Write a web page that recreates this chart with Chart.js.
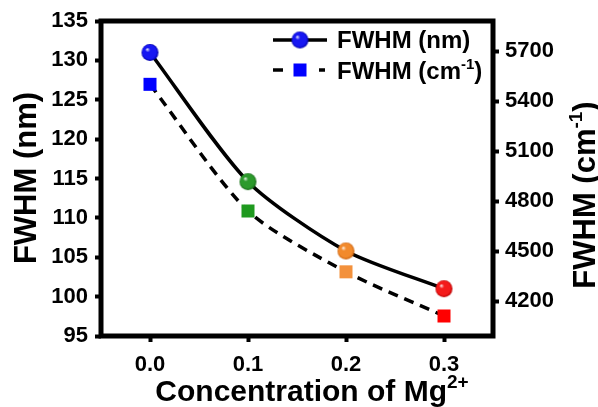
<!DOCTYPE html>
<html>
<head>
<meta charset="utf-8">
<script src="https://cdn.jsdelivr.net/npm/chart.js@4.4.1/dist/chart.umd.min.js"></script>
<style>
  html, body { margin: 0; padding: 0; background: #fff; }
  #chart { display: block; }
</style>
</head>
<body>
<canvas id="chart" width="598" height="407"></canvas>
<script>
// values
const concentrations = [0.0, 0.1, 0.2, 0.3];
const fwhmNm = [131.0, 114.6, 105.8, 101.0];
const fwhmCm = [5500, 4740, 4375, 4110];
const sphereColors = ['#1717f2', '#2c9a2c', '#f28a2c', '#f41a1a'];
const sphereEdges = ['#0000a8', '#1a6a1a', '#c8600c', '#b80000'];
const squareColors = ['#0000ff', '#1f9a1f', '#f3913c', '#ff0000'];

const xTicks = [0.0, 0.1, 0.2, 0.3];
const nmTicks = [95, 100, 105, 110, 115, 120, 125, 130, 135];
const cmTicks = [4200, 4500, 4800, 5100, 5400, 5700];

const FONT = '"Liberation Sans", Arial, sans-serif';
Chart.defaults.font.family = FONT;
Chart.defaults.font.weight = 'bold';
Chart.defaults.color = '#000';

// shaded ball used as the circle marker
function sphere(color, edge, r) {
    const c = document.createElement('canvas');
    const s = Math.ceil(r * 2 + 2);
    c.width = s;
    c.height = s;
    const g = c.getContext('2d');
    const m = s / 2;
    const grad = g.createRadialGradient(m - r * 0.35, m - r * 0.4, 0, m, m, r);
    grad.addColorStop(0, '#ffffff');
    grad.addColorStop(0.28, color);
    grad.addColorStop(0.8, color);
    grad.addColorStop(1, edge);
    g.fillStyle = grad;
    g.beginPath();
    g.arc(m, m, r, 0, Math.PI * 2);
    g.fill();
    return c;
}
const spheres = sphereColors.map((c, i) => sphere(c, sphereEdges[i], 8.5));

// text with an optional raised part, e.g. Mg2+
function richText(ctx, main, sup, tail, size, x, y, align) {
    const f = `bold ${size}px ${FONT}`;
    const fs = `bold ${Math.round(size * 0.62)}px ${FONT}`;
    ctx.font = f;
    const w1 = ctx.measureText(main).width;
    const w3 = tail ? ctx.measureText(tail).width : 0;
    ctx.font = fs;
    const w2 = sup ? ctx.measureText(sup).width : 0;
    let px = align === 'center' ? x - (w1 + w2 + w3) / 2 : x;
    ctx.textAlign = 'left';
    ctx.fillStyle = '#000';
    ctx.font = f;
    ctx.fillText(main, px, y);
    px += w1;
    if (sup) {
        ctx.font = fs;
        ctx.fillText(sup, px, y - size * 0.42);
        px += w2;
    }
    if (tail) {
        ctx.font = f;
        ctx.fillText(tail, px, y);
    }
}

const decorations = {
    id: 'decorations',
    beforeDatasetsDraw(chart) {
        const ctx = chart.ctx;
        const a = chart.chartArea;
        ctx.save();
        ctx.strokeStyle = '#000';
        ctx.lineWidth = 5;
        ctx.lineJoin = 'miter';
        ctx.strokeRect(a.left, a.top, a.right - a.left, a.bottom - a.top);
        ctx.restore();
    },
    afterDraw(chart) {
        const ctx = chart.ctx;
        ctx.save();
        ctx.textBaseline = 'alphabetic';

        // axis titles
        richText(ctx, 'Concentration of Mg', '2+', '', 30, 312, 401, 'center');

        ctx.save();
        ctx.translate(36, 178);
        ctx.rotate(-Math.PI / 2);
        richText(ctx, 'FWHM (nm)', '', '', 31, 0, 0, 'center');
        ctx.restore();

        ctx.save();
        ctx.translate(595, 195);
        ctx.rotate(-Math.PI / 2);
        richText(ctx, 'FWHM (cm', '-1', ')', 31, 0, 0, 'center');
        ctx.restore();

        // legend
        ctx.strokeStyle = '#000';
        ctx.lineWidth = 3.5;
        ctx.beginPath();
        ctx.moveTo(273, 40);
        ctx.lineTo(327, 40);
        ctx.stroke();
        ctx.drawImage(spheres[0], 300 - spheres[0].width / 2, 40 - spheres[0].height / 2);

        ctx.beginPath();
        ctx.moveTo(273, 70);
        ctx.lineTo(283, 70);
        ctx.moveTo(319, 70);
        ctx.lineTo(325, 70);
        ctx.stroke();
        ctx.fillStyle = squareColors[0];
        ctx.fillRect(293.5, 63.5, 13, 13);

        ctx.textBaseline = 'middle';
        richText(ctx, 'FWHM (nm)', '', '', 24, 337, 41, 'left');
        ctx.textBaseline = 'alphabetic';
        richText(ctx, 'FWHM (cm', '-1', ')', 24, 337, 79, 'left');
        ctx.restore();
    }
};

const tickGrid = { drawOnChartArea: false, drawTicks: true, tickLength: 6, tickWidth: 4, color: '#000' };

new Chart(document.getElementById('chart'), {
    type: 'line',
    data: {
        datasets: [{
            label: 'FWHM (nm)',
            data: concentrations.map((c, i) => ({ x: c, y: fwhmNm[i] })),
            xAxisID: 'x',
            yAxisID: 'y',
            borderColor: '#000',
            borderWidth: 3.5,
            tension: 0.25,
            pointStyle: spheres,
            pointRadius: 8.5
        }, {
            label: 'FWHM (cm-1)',
            data: concentrations.map((c, i) => ({ x: c, y: fwhmCm[i] })),
            xAxisID: 'x',
            yAxisID: 'y2',
            borderColor: '#000',
            borderWidth: 3.5,
            borderDash: [10, 7],
            tension: 0.25,
            pointStyle: 'rect',
            pointRadius: 9.2,
            pointBackgroundColor: squareColors,
            pointBorderColor: squareColors,
            pointBorderWidth: 0
        }]
    },
    options: {
        responsive: false,
        animation: false,
        events: [],
        layout: { padding: 0 },
        plugins: { legend: { display: false }, tooltip: { enabled: false } },
        scales: {
            x: {
                type: 'linear',
                position: 'bottom',
                min: -0.05,
                max: 0.35,
                afterBuildTicks: s => { s.ticks = xTicks.map(v => ({ value: v })); },
                afterFit: s => { s.height = 71; },
                ticks: { callback: v => v.toFixed(1), padding: 10, maxRotation: 0, font: { size: 22, weight: 'bold' } },
                grid: tickGrid,
                border: { display: false }
            },
            x2: {
                type: 'linear',
                position: 'top',
                min: -0.05,
                max: 0.35,
                ticks: { display: false },
                grid: { display: false },
                border: { display: false },
                afterFit: s => { s.height = 21; }
            },
            y: {
                type: 'linear',
                position: 'left',
                min: 95,
                max: 135,
                afterBuildTicks: s => { s.ticks = nmTicks.map(v => ({ value: v })); },
                afterFit: s => { s.width = 101; },
                ticks: { callback: v => String(v), padding: 7, font: { size: 22, weight: 'bold' } },
                grid: tickGrid,
                border: { display: false }
            },
            y2: {
                type: 'linear',
                position: 'right',
                min: 3990,
                max: 5880,
                afterBuildTicks: s => { s.ticks = cmTicks.map(v => ({ value: v })); },
                afterFit: s => { s.width = 105; },
                ticks: { callback: v => String(v), padding: 6, font: { size: 22, weight: 'bold' } },
                grid: tickGrid,
                border: { display: false }
            }
        }
    },
    plugins: [decorations]
});
</script>
</body>
</html>
